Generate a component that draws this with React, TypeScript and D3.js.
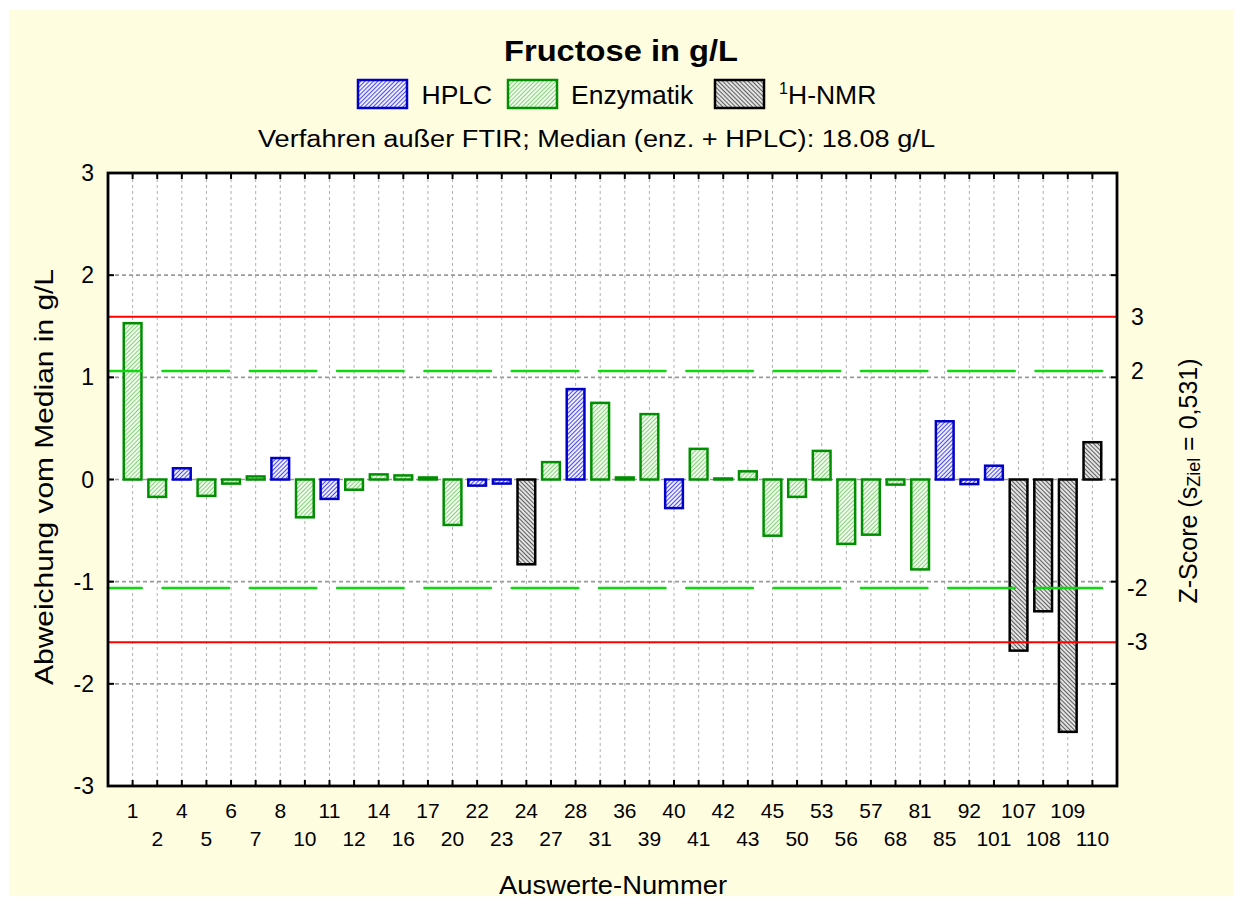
import React from "react";
import * as d3 from "d3";

const categories = ["1","2","4","5","6","7","8","10","11","12","14","16","17","20","22","23","24","27","28","31","36","39","40","41","42","43","45","50","53","56","57","68","81","85","92","101","107","108","109","110"];
const methods = ["E","E","H","E","E","E","H","E","H","E","E","E","E","E","H","H","N","E","H","E","E","E","H","E","E","E","E","E","E","E","E","E","E","H","H","H","N","N","N","N"];
const values = [1.53,-0.17,0.11,-0.16,-0.04,0.03,0.21,-0.37,-0.19,-0.1,0.05,0.04,0.02,-0.445,-0.06,-0.04,-0.83,0.17,0.885,0.75,0.02,0.64,-0.28,0.3,0.01,0.08,-0.55,-0.17,0.28,-0.63,-0.54,-0.05,-0.88,0.57,-0.045,0.135,-1.675,-1.29,-2.47,0.365];
const yTicks = [-3,-2,-1,0,1,2,3];
const gridTicks = [-2,-1,0,1,2];
const zTicks = [3,2,-2,-3];
const sZiel = 0.531;

const legendItems = [
  { key: "H", label: "HPLC" },
  { key: "E", label: "Enzymatik" },
  { key: "N", label: "H-NMR", sup: "1" },
];

const stroke: Record<string, string> = { H: "#0000c8", E: "#008f00", N: "#000000" };
const fillId: Record<string, string> = { H: "url(#patH)", E: "url(#patE)", N: "url(#patN)" };

const FONT = "'Liberation Sans', Arial, Helvetica, sans-serif";

export default function App() {
  const W = 1241, H = 906;
  const L = 108, R = 1117, T = 173, B = 786;
  const x = d3.scaleLinear().domain([0, categories.length + 1]).range([L, R]);
  const y = d3.scaleLinear().domain([-3, 3]).range([B, T]);
  const step = x(1) - x(0);
  const bw = step * 0.72;
  const idx = d3.range(categories.length);

  const legendBoxes = [358, 508, 715];
  const legendText = [421.5, 571, 788];

  return (
    <svg width={W} height={H} style={{ position: "absolute", left: 0, top: 0, display: "block" }} fontFamily={FONT}>
      <defs>
        <pattern id="patH" patternUnits="userSpaceOnUse" width="3" height="3" patternTransform="rotate(45)">
          <rect width="3" height="3" fill="#eeeeff" />
          <line x1="0.5" y1="0" x2="0.5" y2="3" stroke="#3a3ae6" strokeWidth="0.9" />
        </pattern>
        <pattern id="patE" patternUnits="userSpaceOnUse" width="3" height="3" patternTransform="rotate(45)">
          <rect width="3" height="3" fill="#f6fcf2" />
          <line x1="0.5" y1="0" x2="0.5" y2="3" stroke="#72d066" strokeWidth="0.9" />
        </pattern>
        <pattern id="patN" patternUnits="userSpaceOnUse" width="3" height="3" patternTransform="rotate(-45)">
          <rect width="3" height="3" fill="#e2e2e2" />
          <line x1="0.5" y1="0" x2="0.5" y2="3" stroke="#333" strokeWidth="0.75" />
        </pattern>
      </defs>
      <rect x={0} y={0} width={W} height={H} fill="#ffffff" />
      <rect x={9} y={10} width={1224} height={886} fill="#fffde0" />

      {/* Title */}
      <text x={621} y={61} textAnchor="middle" fontSize={30} fontWeight="bold" textLength={234} lengthAdjust="spacingAndGlyphs">Fructose in g/L</text>

      {/* Legend */}
      {legendItems.map((it, i) => (
        <g key={it.key}>
          <rect x={legendBoxes[i]} y={80} width={49} height={28} fill={fillId[it.key]} stroke={stroke[it.key]} strokeWidth={2.5} />
          {it.sup && <text x={legendText[i] - 9} y={94} fontSize={16}>{it.sup}</text>}
          <text x={legendText[i]} y={104} fontSize={26.5}>{it.label}</text>
        </g>
      ))}

      {/* Subtitle */}
      <text x={596.5} y={146.5} textAnchor="middle" fontSize={23} textLength={677} lengthAdjust="spacingAndGlyphs">Verfahren außer FTIR; Median (enz. + HPLC): 18.08 g/L</text>

      {/* Plot area */}
      <rect x={L} y={T} width={R - L} height={B - T} fill="#ffffff" />
      {idx.map((i) => (
        <line key={"vg" + i} x1={x(i + 1)} x2={x(i + 1)} y1={T} y2={B} stroke="#b0b0b0" strokeWidth={1} strokeDasharray="3,3" />
      ))}
      {gridTicks.map((t) => (
        <line key={"hg" + t} x1={L} x2={R} y1={y(t)} y2={y(t)} stroke="#9a9a9a" strokeWidth={1.6} strokeDasharray="4,3" />
      ))}

      {/* Bars */}
      {idx.map((i) => {
        const v = values[i];
        const y0 = y(0), y1 = y(v);
        const top = Math.min(y0, y1);
        const h = Math.max(Math.abs(y1 - y0), 1);
        return (
          <rect key={"b" + i} x={x(i + 1) - bw / 2} y={top} width={bw} height={h}
            fill={fillId[methods[i]]} stroke={stroke[methods[i]]} strokeWidth={2.5} />
        );
      })}

      {/* Limit lines */}
      {[2, -2].map((z) => (
        <line key={"g" + z} x1={L} x2={R} y1={y(z * sZiel)} y2={y(z * sZiel)} stroke="#10d810" strokeWidth={2.5}
          strokeDasharray="66.5,20.8" strokeDashoffset={32.8} strokeLinecap="round" />
      ))}
      {[3, -3].map((z) => (
        <line key={"r" + z} x1={L} x2={R} y1={y(z * sZiel)} y2={y(z * sZiel)} stroke="#ff0000" strokeWidth={2.2} />
      ))}

      {/* Ticks */}
      {yTicks.map((t) => (
        <g key={"yt" + t}>
          <line x1={L} x2={L + 6} y1={y(t)} y2={y(t)} stroke="#000" strokeWidth={2} />
          <line x1={R - 6} x2={R} y1={y(t)} y2={y(t)} stroke="#000" strokeWidth={2} />
          <text x={94} y={y(t)} textAnchor="end" dominantBaseline="central" fontSize={23}>{t}</text>
        </g>
      ))}
      {idx.map((i) => (
        <g key={"xt" + i}>
          <line x1={x(i + 1)} x2={x(i + 1)} y1={T} y2={T + 6} stroke="#000" strokeWidth={2} />
          <line x1={x(i + 1)} x2={x(i + 1)} y1={B - 6} y2={B} stroke="#000" strokeWidth={2} />
          <text x={x(i + 1)} y={i % 2 === 0 ? 818 : 846} textAnchor="middle" fontSize={21}>{categories[i]}</text>
        </g>
      ))}
      {zTicks.map((z) => (
        <text key={"z" + z} x={z < 0 ? 1127 : 1131} y={y(z * sZiel)} dominantBaseline="central" fontSize={23}>{z}</text>
      ))}

      {/* Frame */}
      <rect x={L} y={T} width={R - L} height={B - T} fill="none" stroke="#000" strokeWidth={2.8} />

      {/* Axis titles */}
      <text x={613} y={894} textAnchor="middle" fontSize={25} textLength={228} lengthAdjust="spacingAndGlyphs">Auswerte-Nummer</text>
      <text transform="translate(44,477) rotate(-90)" textAnchor="middle" dominantBaseline="central" fontSize={26} textLength={416} lengthAdjust="spacingAndGlyphs">Abweichung vom Median in g/L</text>
      <text transform="translate(1188,481) rotate(-90)" textAnchor="middle" dominantBaseline="central" fontSize={25}>
        Z-Score (s<tspan fontSize={18} dy={6}>Ziel</tspan><tspan dy={-6}> = 0,531)</tspan>
      </text>
    </svg>
  );
}
